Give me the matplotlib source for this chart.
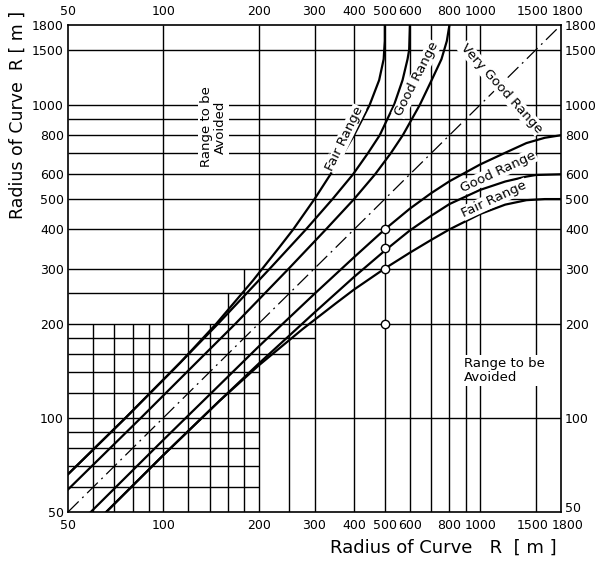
import numpy as np
import matplotlib.pyplot as plt
import matplotlib.transforms as mtransforms

# axis ticks (same on all four sides)
ticks = [50, 100, 200, 300, 400, 500, 600, 800, 1000, 1500, 1800]

# grid lines: value and how far each line runs (from 50 up to the end value)
h_vals = [60, 70, 80, 90, 100, 120, 140, 160, 180, 200, 250, 300, 400, 500, 600, 700, 800, 900, 1000, 1500]
h_ends = [200, 200, 200, 200, 1800, 200, 200, 250, 300, 1800, 300, 1800, 1800, 1800, 1800, 1800, 1800, 1800, 1800, 1800]
v_vals = [60, 70, 80, 90, 100, 120, 140, 160, 180, 200, 250, 300, 400, 500, 600, 700, 800, 900, 1000, 1500]
v_ends = [200, 200, 200, 200, 1800, 200, 200, 250, 300, 1800, 300, 1800, 1800, 1800, 1800, 1800, 1800, 1800, 1800, 1800]

# lower boundary curves (R1 -> R2); the upper ones are their mirror images
good_x = [59, 100, 150, 200, 300, 400, 500, 600, 700, 800, 1000, 1200, 1400, 1600, 1800]
good_y = [50, 85, 127, 169, 249, 326, 400, 466, 522, 570, 645, 703, 755, 785, 800]
fair_x = [66, 100, 150, 200, 300, 400, 500, 600, 700, 800, 1000, 1200, 1400, 1500, 1800]
fair_y = [50, 76, 113, 149, 217, 282, 342, 397, 442, 482, 535, 569, 590, 597, 600]
avoid_x = [66, 100, 150, 200, 275, 350, 400, 500, 600, 700, 800, 1000, 1200, 1400, 1600, 1800]
avoid_y = [50, 76, 113, 147, 192, 232, 257, 300, 337, 370, 400, 448, 480, 496, 500, 500]

# marked points on R = 500
pt_x = [500, 500, 500, 500]
pt_y = [200, 300, 350, 400]

plt.rcParams['font.family'] = ['DejaVu Sans']

fig = plt.figure(figsize=(5.98, 5.63), dpi=100)
ax = fig.add_axes([68 / 598, 51 / 563, 493 / 598, 487 / 563])
ax.set_xscale('log')
ax.set_yscale('log')
ax.set_xlim(50, 1800)
ax.set_ylim(50, 1800)

lw_grid = 1.0
ax.hlines(h_vals, 50, h_ends, colors='black', lw=lw_grid)
ax.vlines(v_vals, 50, v_ends, colors='black', lw=lw_grid)

# diagonal
ax.plot([50, 1800], [50, 1800], color='black', lw=0.9, dashes=[12, 4, 1.5, 4])

lw_c = 1.6
for xs, ys in [(good_x, good_y), (fair_x, fair_y), (avoid_x, avoid_y)]:
    ax.plot(xs, ys, color='black', lw=lw_c)
    ax.plot(ys, xs, color='black', lw=lw_c)

ax.plot(pt_x, pt_y, 'o', mfc='white', mec='black', ms=6, mew=1.0, zorder=5)

box = dict(facecolor='white', edgecolor='none', pad=1.5)
tbox = dict(facecolor='white', edgecolor='none', pad=0.6)
ax.text(144, 850, 'Range to be\nAvoided', rotation=90, ha='center', va='center',
        fontsize=9.5, bbox=box, linespacing=1.1)
ax.text(890, 142, 'Range to be\nAvoided', ha='left', va='center',
        fontsize=9.5, bbox=box, linespacing=1.1)
ax.text(372, 780, 'Fair Range', rotation=64, ha='center', va='center', fontsize=9.5,
        bbox=tbox, zorder=4)
ax.text(630, 1210, 'Good Range', rotation=63, ha='center', va='center', fontsize=9.5,
        bbox=tbox, zorder=4)
ax.text(1165, 1130, 'Very Good Range', rotation=-48, ha='center', va='center', fontsize=9.5,
        bbox=tbox, zorder=4)
ax.text(1140, 612, 'Good Range', rotation=25, ha='center', va='center', fontsize=9.5,
        bbox=tbox, zorder=4)
ax.text(1110, 500, 'Fair Range', rotation=25, ha='center', va='center', fontsize=9.5,
        bbox=tbox, zorder=4)

ax.set_xticks(ticks)
ax.set_yticks(ticks)
ax.set_xticklabels([str(t) for t in ticks])
ax.set_yticklabels([str(t) for t in ticks])
ax.minorticks_off()
ax.tick_params(which='both', length=0, labelsize=9,
               top=True, labeltop=True, right=True, labelright=True)
ax.tick_params(axis='x', pad=5)
ax.tick_params(axis='y', pad=3)
for s in ax.spines.values():
    s.set_linewidth(1.2)

# nudge crowded labels apart
right = mtransforms.ScaledTranslation(7 / 100, 0, fig.dpi_scale_trans)
left = mtransforms.ScaledTranslation(-3 / 100, 0, fig.dpi_scale_trans)
up = mtransforms.ScaledTranslation(0, 5 / 100, fig.dpi_scale_trans)
xt = ax.xaxis.get_major_ticks()
for lab in (xt[-1].label1, xt[-1].label2):
    lab.set_transform(lab.get_transform() + right)
for lab in (xt[-2].label1, xt[-2].label2):
    lab.set_transform(lab.get_transform() + left)
yt = ax.yaxis.get_major_ticks()
yt[0].label2.set_transform(yt[0].label2.get_transform() + up)

ax.set_ylabel('Radius of Curve  R [ m ]', fontsize=12.5)
ax.yaxis.set_label_coords(-0.083, 0.815)
fig.text(0.93, 0.027, 'Radius of Curve   R  [ m ]', ha='right', va='center', fontsize=13)

fig.savefig('out.png', dpi=100)
